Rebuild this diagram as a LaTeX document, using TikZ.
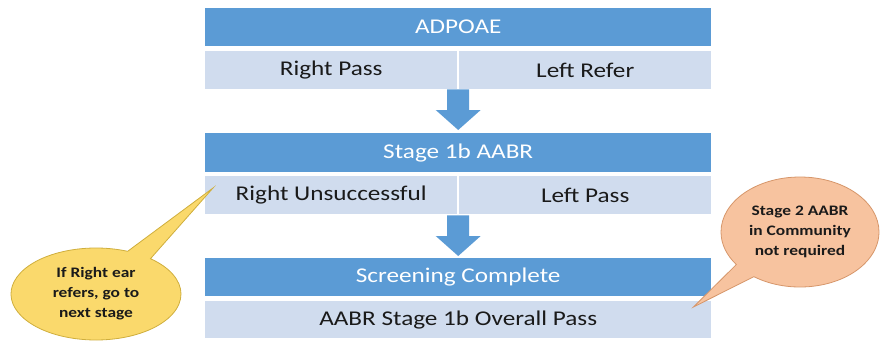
\documentclass[tikz,border=0pt]{standalone}
\usepackage{fontspec}
\setmainfont{Carlito}[FakeStretch=1.2]
\usetikzlibrary{shapes.callouts,calc}
\definecolor{hdrblue}{HTML}{5B9BD5}
\definecolor{rowblue}{HTML}{D0DCEE}
\definecolor{goldfill}{HTML}{FAD96C}
\definecolor{golddraw}{HTML}{CFAE3C}
\definecolor{peachfill}{HTML}{F7C39F}
\definecolor{peachdraw}{HTML}{D6966A}
\definecolor{ink}{HTML}{1A1A1A}

% block arrow pointing down: #1 = middle of the shaft top, #2 = tip
\newcommand\flowarrow[2]{%
  \fill[hdrblue] let \p1=(#1), \p2=(#2) in
    (\x1-11pt,\y1) -- (\x1+11pt,\y1) -- (\x1+11pt,\y2+20pt)
    -- (\x1+22.5pt,\y2+20pt) -- (\x2,\y2) -- (\x1-22.5pt,\y2+20pt)
    -- (\x1-11pt,\y2+20pt) -- cycle;}

\begin{document}
\begin{tikzpicture}[x=1pt,y=-1pt,
  hdr/.style={fill=hdrblue, text=white, minimum width=506pt, minimum height=38pt,
    inner sep=0pt, anchor=north west, font=\fontsize{21}{25}\selectfont},
  cell/.style={fill=rowblue, text=ink, minimum width=252pt, minimum height=38pt,
    inner sep=0pt, anchor=north west, font=\fontsize{21}{25}\selectfont},
  wide/.style={cell, minimum width=506pt},
  bubble/.style={ellipse callout, line width=0.8pt, inner sep=0pt, align=center,
    text=ink, font=\bfseries\fontsize{14.5}{20}\selectfont, callout pointer arc=18}
]
\useasboundingbox (0,0) rectangle (880,341);

% stage 1: ADPOAE
\node[hdr] (h1) at (205,8) {ADPOAE};
\node[cell] (r1l) at (205,51) {Right Pass};
\node[cell] (r1r) at (459,51) {Left Refer};

% stage 2: AABR
\node[hdr, minimum height=39pt] (h2) at (205,133) {Stage 1b AABR};
\node[cell] (r2l) at (205,176) {Right Unsuccessful};
\node[cell] (r2r) at (459,176) {Left Pass};

% outcome
\node[hdr] (h3) at (205,258) {Screening Complete};
\node[wide, minimum height=37pt] (r3) at (205,301) {AABR Stage 1b Overall Pass};

% arrows between stages
\flowarrow{$(r1l.south east)!0.5!(r1r.south west)$}{$(h2.north)+(0,-3)$}
\flowarrow{$(r2l.south east)!0.5!(r2r.south west)+(0,1)$}{$(h3.north)+(0,-2)$}

% notes
\node[bubble, fill=goldfill, draw=golddraw, minimum width=170pt, minimum height=92pt,
  callout absolute pointer={($(r2l.north west)+(8,12)$)}] (n1) at (96,294)
  {If Right ear\\refers, go to\\next stage};
\node[bubble, fill=peachfill, draw=peachdraw, minimum width=158pt, minimum height=110pt,
  callout absolute pointer={($(r3.north east)+(-18,6)$)}] (n2) at (800,232)
  {Stage 2 AABR\\in Community\\not required};
\end{tikzpicture}
\end{document}
